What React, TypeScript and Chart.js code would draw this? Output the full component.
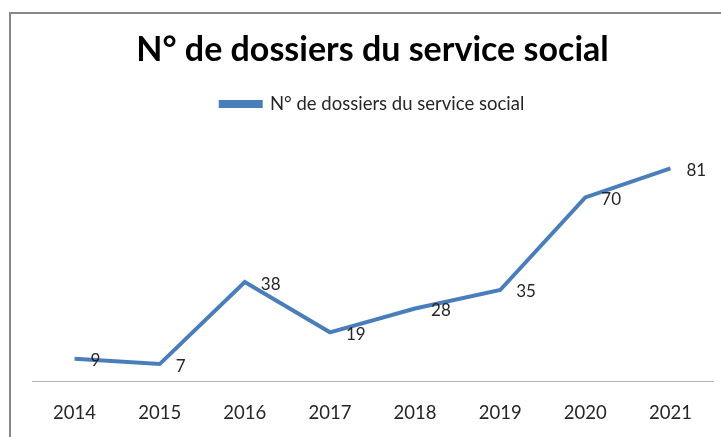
import React, { useEffect, useRef } from "react";
import { Chart, registerables } from "chart.js";

Chart.register(...registerables);

const categories = ["2014", "2015", "2016", "2017", "2018", "2019", "2020", "2021"];
const seriesName = "N° de dossiers du service social";
const values = [9, 7, 38, 19, 28, 35, 70, 81];
const titleText = "N° de dossiers du service social";

const FONT = "Lato, 'Open Sans', sans-serif";

const frame = {
  id: "frame",
  beforeDraw(chart: any) {
    const ctx = chart.ctx;
    ctx.save();
    ctx.fillStyle = "#ffffff";
    ctx.fillRect(0, 0, chart.width, chart.height);
    ctx.strokeStyle = "#878787";
    ctx.lineWidth = 2;
    ctx.strokeRect(10, 13, chart.width + 20, chart.height + 20);
    ctx.restore();
  },
};

const dataLabels = {
  id: "dataLabels",
  afterDatasetsDraw(chart: any) {
    const ctx = chart.ctx;
    const meta = chart.getDatasetMeta(0);
    ctx.save();
    ctx.font = `17px ${FONT}`;
    ctx.fillStyle = "#262626";
    ctx.textAlign = "left";
    ctx.textBaseline = "middle";
    meta.data.forEach((pt: any, i: number) => {
      ctx.fillText(String(values[i]), pt.x + 16, pt.y + 2);
    });
    ctx.restore();
  },
};

export default function App() {
  const ref = useRef<HTMLCanvasElement>(null);
  useEffect(() => {
    document.body.style.margin = "0";
    const chart = new Chart(ref.current!, {
      type: "line",
      data: {
        labels: categories,
        datasets: [
          {
            label: seriesName,
            data: values,
            borderColor: "#4a7ebb",
            backgroundColor: "#4a7ebb",
            borderWidth: 4,
            pointRadius: 0,
            tension: 0,
          },
        ],
      },
      options: {
        animation: false,
        responsive: false,
        layout: { padding: { left: 32, right: 8, top: 30, bottom: 0 } },
        plugins: {
          title: {
            display: true,
            text: titleText,
            color: "#000000",
            font: { family: FONT, size: 34, weight: "bold" },
            padding: { top: 0, bottom: 20 },
          },
          legend: {
            display: true,
            labels: {
              color: "#262626",
              font: { family: FONT, size: 18.5 },
              boxWidth: 40,
              boxHeight: 4,
              padding: 4,
            },
          },
          tooltip: { enabled: false },
        },
        scales: {
          x: {
            offset: true,
            grid: { display: false, drawTicks: false },
            border: { display: true, color: "#b5b5b5", width: 1 },
            ticks: { color: "#262626", font: { family: FONT, size: 18.5 }, padding: 21 },
            afterFit: (s: any) => {
              s.height = 56;
            },
          },
          y: {
            display: false,
            min: 0.6,
            max: 98,
          },
        },
      },
      plugins: [frame, dataLabels],
    });
    return () => chart.destroy();
  }, []);
  return <canvas ref={ref} width={721} height={437} style={{ display: "block" }} />;
}
